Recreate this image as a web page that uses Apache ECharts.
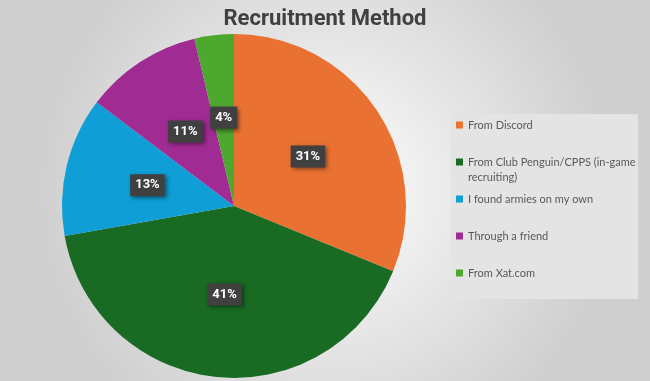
<!DOCTYPE html>
<html><head><meta charset="utf-8">
<script src="https://cdn.jsdelivr.net/npm/echarts@6/dist/echarts.min.js"></script>
<style>html,body{margin:0;padding:0;}#c{width:650px;height:381px;}</style>
</head><body><div id="c"></div>
<script>
const categories = ['From Discord', 'From Club Penguin/CPPS (in-game recruiting)', 'I found armies on my own', 'Through a friend', 'From Xat.com'];
const values = [31.2, 41.0, 13.1, 11.0, 3.7];
const colors = ['#E97132', '#196B24', '#0F9ED5', '#A02B93', '#4EA72E'];
const legendCenters = [125, 162, 199, 236, 273];

const chart = echarts.init(document.getElementById('c'));
const legends = categories.map((name, i) => {
  const multi = i === 1;
  return {
    orient: 'vertical',
    left: 456,
    top: multi ? legendCenters[i] - 22.5 : legendCenters[i] - 7.5,
    data: [name],
    icon: 'rect',
    itemWidth: 7,
    itemHeight: 7,
    itemGap: 0,
    selectedMode: false,
    padding: 0,
    formatter: multi
      ? (n => ' \n' + 'From Club Penguin/CPPS (in-game' + '\n' + 'recruiting)')
      : '{name}',
    textStyle: { color: '#595959', fontSize: 11, fontFamily: 'Lato', lineHeight: 15 }
  };
});
chart.setOption({
  backgroundColor: {
    type: 'radial', x: 0.5, y: 0.5, r: 0.75,
    colorStops: [{ offset: 0, color: '#ffffff' }, { offset: 1, color: '#cfcfcf' }]
  },
  title: {
    text: 'Recruitment Method', left: 'center', top: 3,
    textStyle: { fontSize: 22, fontWeight: 'bold', color: '#404040', fontFamily: 'Roboto' }
  },
  graphic: [{
    type: 'rect', left: 451, top: 114, z: -1,
    shape: { width: 187, height: 185 },
    style: { fill: '#e4e4e4' }
  }],
  legend: legends,
  series: [{
    type: 'pie',
    center: [234, 206],
    radius: 172,
    startAngle: 90,
    clockwise: true,
    avoidLabelOverlap: false,
    color: colors,
    itemStyle: { borderWidth: 0 },
    label: {
      position: 'inside',
      formatter: p => Math.round(p.percent) + '%',
      color: '#ffffff', fontWeight: 'bold', fontSize: 13, fontFamily: 'Roboto',
      backgroundColor: '#404040', padding: [5, 5, 4, 5],
      shadowColor: 'rgba(0,0,0,0.45)', shadowBlur: 4, shadowOffsetX: 2, shadowOffsetY: 2
    },
    labelLine: { show: false },
    emphasis: { disabled: true },
    data: categories.map((n, i) => ({ name: n, value: values[i] }))
  }]
});
</script></body></html>
